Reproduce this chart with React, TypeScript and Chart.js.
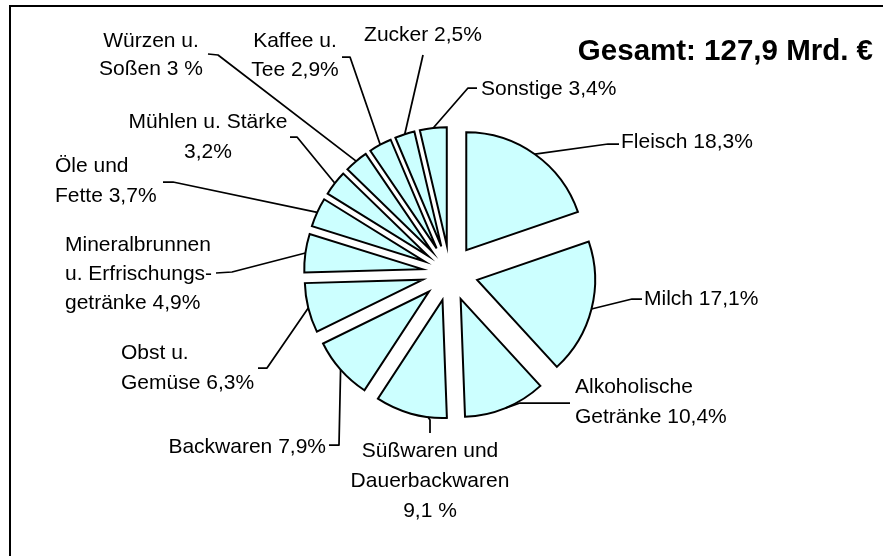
import React, { useEffect, useRef } from "react";
import { Chart, registerables } from "chart.js";

Chart.register(...registerables);

// ---- data ----
const categories = [
  "Fleisch",
  "Milch",
  "Alkoholische Getränke",
  "Süßwaren und Dauerbackwaren",
  "Backwaren",
  "Obst u. Gemüse",
  "Mineralbrunnen u. Erfrischungsgetränke",
  "Öle und Fette",
  "Mühlen u. Stärke",
  "Würzen u. Soßen",
  "Kaffee u. Tee",
  "Zucker",
  "Sonstige",
];
const shares = [18.3, 17.1, 10.4, 9.1, 7.9, 6.3, 4.9, 3.7, 3.2, 3.0, 2.9, 2.5, 3.4];
const labelTexts = [
  ["Fleisch 18,3%"],
  ["Milch 17,1%"],
  ["Alkoholische", "Getränke 10,4%"],
  ["Süßwaren und", "Dauerbackwaren", "9,1 %"],
  ["Backwaren 7,9%"],
  ["Obst u.", "Gemüse 6,3%"],
  ["Mineralbrunnen", "u. Erfrischungs-", "getränke 4,9%"],
  ["Öle und", "Fette 3,7%"],
  ["Mühlen u. Stärke", "3,2%"],
  ["Würzen u.", "Soßen 3 %"],
  ["Kaffee u.", "Tee 2,9%"],
  ["Zucker 2,5%"],
  ["Sonstige 3,4%"],
];
const titleText = "Gesamt: 127,9 Mrd. €";

// ---- layout (label placement, leader elbows) ----
type LabelLayout = {
  x: number;
  y: number;
  align: CanvasTextAlign;
  lh: number;
  frac: number;
  path: number[][];
};
const labelLayout: LabelLayout[] = [
  { x: 621, y: 148, align: "left", lh: 30, frac: 0.5, path: [[608, 144], [619, 144]] },
  { x: 644, y: 305, align: "left", lh: 30, frac: 0.5, path: [[632, 299], [642, 299]] },
  { x: 575, y: 393, align: "left", lh: 30, frac: 0.5, path: [[520, 403], [570, 403]] },
  { x: 430, y: 457, align: "center", lh: 30, frac: 0.26, path: [[430, 420], [430, 433]] },
  { x: 326, y: 453, align: "right", lh: 30, frac: 0.5, path: [[339, 445], [329, 445]] },
  { x: 121, y: 359, align: "left", lh: 30, frac: 0.5, path: [[267, 368], [258, 368]] },
  { x: 65, y: 251, align: "left", lh: 29, frac: 0.5, path: [[232, 272], [216, 273]] },
  { x: 55, y: 172, align: "left", lh: 30, frac: 0.5, path: [[173, 182], [163, 182]] },
  { x: 208, y: 128, align: "center", lh: 30, frac: 0.5, path: [[297, 137], [290, 137]] },
  { x: 151, y: 47, align: "center", lh: 28, frac: 0.5, path: [[218, 55], [208, 54]] },
  { x: 295, y: 47, align: "center", lh: 29, frac: 0.5, path: [[350, 57], [342, 57]] },
  { x: 423, y: 41, align: "center", lh: 30, frac: 0.5, path: [[423, 55]] },
  { x: 481, y: 95, align: "left", lh: 30, frac: 0.5, path: [[468, 88], [477, 88]] },
];

const FONT = "'Liberation Sans', Arial, 'DejaVu Sans', sans-serif";
const EXPLODE = 28;

const explodePlugin = {
  id: "explodeSlices",
  afterDatasetUpdate(chart: any, args: any) {
    const meta = args.meta;
    meta.data.forEach((arc: any) => {
      const half = (arc.startAngle + arc.endAngle) / 2;
      arc.x += Math.cos(half) * EXPLODE;
      arc.y += Math.sin(half) * EXPLODE;
    });
  },
};

const framePlugin = {
  id: "frame",
  beforeDraw(chart: any) {
    const ctx = chart.ctx;
    ctx.save();
    ctx.fillStyle = "#ffffff";
    ctx.fillRect(0, 0, chart.width, chart.height);
    ctx.strokeStyle = "#000000";
    ctx.lineWidth = 2;
    ctx.beginPath();
    ctx.moveTo(10, chart.height + 10);
    ctx.lineTo(10, 6);
    ctx.lineTo(chart.width + 10, 6);
    ctx.stroke();
    ctx.restore();
  },
};

const labelPlugin = {
  id: "leaderLabels",
  afterDraw(chart: any) {
    const ctx = chart.ctx;
    const meta = chart.getDatasetMeta(0);
    ctx.save();
    ctx.strokeStyle = "#000000";
    ctx.lineWidth = 1.75;
    ctx.lineJoin = "round";
    meta.data.forEach((arc: any, i: number) => {
      const lay = labelLayout[i];
      const ang = arc.startAngle + lay.frac * (arc.endAngle - arc.startAngle);
      const r = arc.outerRadius;
      const px = arc.x + Math.cos(ang) * r;
      const py = arc.y + Math.sin(ang) * r;
      ctx.beginPath();
      ctx.moveTo(px, py);
      lay.path.forEach((p) => ctx.lineTo(p[0], p[1]));
      ctx.stroke();
    });
    ctx.fillStyle = "#000000";
    ctx.font = `21px ${FONT}`;
    ctx.textBaseline = "alphabetic";
    labelTexts.forEach((lines, i) => {
      const lay = labelLayout[i];
      ctx.textAlign = lay.align;
      lines.forEach((t, k) => ctx.fillText(t, lay.x, lay.y + k * lay.lh));
    });
    ctx.font = `bold 29.5px ${FONT}`;
    ctx.textAlign = "right";
    ctx.fillText(titleText, 873, 60);
    ctx.restore();
  },
};

export default function App() {
  const ref = useRef<HTMLCanvasElement | null>(null);
  useEffect(() => {
    if (!ref.current) return;
    const chart = new Chart(ref.current, {
      type: "pie",
      data: {
        labels: categories,
        datasets: [
          {
            data: shares,
            backgroundColor: "#CCFFFF",
            borderColor: "#000000",
            borderWidth: 2,
            borderJoinStyle: "miter",
          } as any,
        ],
      },
      options: {
        animation: false,
        responsive: false,
        devicePixelRatio: 1,
        events: [],
        radius: 118,
        layout: { padding: { left: 17, right: 0, top: 0, bottom: 10 } },
        plugins: {
          legend: { display: false },
          tooltip: { enabled: false },
          title: { display: false },
        },
      } as any,
      plugins: [framePlugin, explodePlugin, labelPlugin],
    });
    return () => chart.destroy();
  }, []);
  return (
    <div style={{ position: "fixed", left: 0, top: 0, width: 883, height: 556, background: "#fff" }}>
      <canvas ref={ref} width={883} height={556} style={{ display: "block" }} />
    </div>
  );
}
